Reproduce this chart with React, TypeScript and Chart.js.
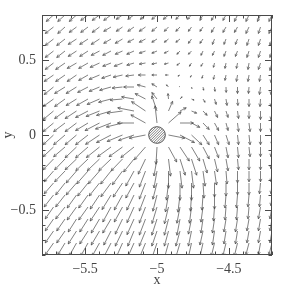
import { useEffect, useRef } from "react";
import { Chart, registerables } from "chart.js";
Chart.register(...registerables);

// grid columns (x) and rows (y, top to bottom) where arrow tails sit
const X_GRID = [-5.72, -5.64, -5.56, -5.48, -5.40, -5.32, -5.24, -5.16, -5.08, -5.00, -4.92, -4.84, -4.76, -4.68, -4.60, -4.52, -4.44, -4.36, -4.28, -4.20];
const Y_GRID = [0.80, 0.72, 0.64, 0.56, 0.48, 0.40, 0.32, 0.24, 0.16, 0.08, 0, -0.08, -0.16, -0.24, -0.32, -0.40, -0.48, -0.56, -0.64, -0.72];

// arrow components (tenths of a grid step), one row per Y_GRID entry
const U_ROWS = [
  [-7, -7, -7, -7, -7, -7, -6, -6, -5, -5, -5, -4, -4, -3, -3, -3, -3, -3, -3, -3],
  [-8, -7, -7, -7, -7, -7, -6, -6, -6, -5, -4, -4, -3, -3, -3, -3, -3, -3, -2, -3],
  [-8, -8, -8, -8, -8, -7, -7, -6, -6, -5, -4, -4, -3, -3, -2, -2, -2, -2, -2, -2],
  [-8, -8, -8, -8, -8, -8, -7, -7, -6, -5, -4, -3, -3, -2, -2, -2, -2, -2, -2, -2],
  [-8, -9, -9, -9, -9, -8, -8, -7, -6, -5, -4, -3, -2, -2, -1, -1, -1, -1, -2, -2],
  [-9, -9, -9, -9, -10, -9, -9, -8, -7, -5, -3, -2, -1, -1, -1, -1, -1, -1, -1, -1],
  [-9, -10, -10, -10, -10, -11, -10, -10, -8, -5, -2, -0.5, 0.4, 0.6, 0.5, 0.2, 0, -0.5, -1, -1],
  [-10, -10, -10, -11, -12, -12, -12, -12, -10, -5, -0.5, 2, 2.5, 2, 1.6, 1, 0.4, 0, -0.5, -1],
  [-10, -10, -11, -12, -13, -14, -15, -16, -14, -5, 4, 6, 5, 4, 3, 2, 1, 0, 0, -1],
  [-10, -11, -11, -12, -14, -16, -17, -17, -15, -2, 13, 13, 8, 6, 4, 2, 1, 1, 0, -1],
  [-10, -11, -11, -12, -14, -14, -15, -15, -16, null, 16, 14, 10, 6, 4, 3, 1, 1, 0, 0],
  [-10, -11, -11, -12, -13, -13, -13, -13, -11, -1, 8, 9, 8, 6, 4, 2, 1, 1, 0, -1],
  [-10, -10, -11, -12, -12, -12, -11, -10, -7, -3, 2, 5, 5, 4, 3, 2, 1, 0, 0, -1],
  [-9, -10, -10, -11, -11, -10, -10, -8, -6, -3, 0, 2, 2, 2, 2, 1, 0, 0, 0, -1],
  [-9, -9, -10, -10, -10, -10, -9, -8, -6, -4, -2, 0, 0, 1, 0, 0, 0, 0, -1, -1],
  [-9, -9, -9, -9, -9, -9, -8, -7, -6, -4, -3, -2, -1, -1, 0, -1, -1, -1, -1, -1],
  [-8, -9, -9, -9, -9, -8, -8, -7, -6, -5, -4, -3, -2, -2, -1, -1, -1, -1, -2, -2],
  [-8, -8, -8, -8, -8, -8, -7, -7, -6, -5, -4, -3, -3, -2, -2, -2, -2, -2, -2, -2],
  [-8, -8, -8, -8, -8, -7, -7, -6, -6, -5, -4, -4, -3, -3, -2, -2, -2, -2, -2, -2],
  [-8, -7, -7, -7, -7, -7, -6, -6, -6, -5, -4, -4, -3, -3, -3, -3, -3, -3, -2, -3],
];
const V_ROWS = [
  [-6, -6, -6, -5, -5, -5, -4, -4, -4, -4, -4, -4, -4, -5, -5, -5, -6, -6, -6, -6],
  [-6, -6, -5, -5, -5, -4, -4, -4, -4, -4, -4, -4, -4, -4, -5, -5, -5, -6, -6, -6],
  [-6, -6, -5, -5, -5, -4, -4, -3, -3, -3, -3, -3, -4, -4, -5, -5, -5, -6, -6, -6],
  [-6, -6, -5, -5, -4, -4, -3, -3, -2, -2, -2, -3, -3, -4, -4, -5, -5, -6, -6, -6],
  [-6, -6, -5, -5, -4, -3, -3, -2, -1, -1, -1, -2, -3, -3, -4, -5, -5, -6, -6, -7],
  [-6, -6, -6, -5, -4, -3, -2, -1, 0, 0, 0, -1, -2, -3, -4, -5, -6, -6, -6, -7],
  [-7, -6, -6, -5, -4, -3, -1, 0, 2, 3, 2, 0.4, -1.4, -3, -4, -5, -6, -6, -7, -7],
  [-7, -7, -6, -6, -5, -3, -1, 2, 5, 6, 5, 2, -1, -3, -5, -6, -6, -7, -7, -7],
  [-8, -7, -7, -6, -5, -4, -2, 3, 9, 14, 9, 3, -2, -4, -6, -6, -7, -7, -8, -8],
  [-8, -8, -8, -7, -7, -6, -4, 0, 8, 17, 11, 0, -4, -6, -7, -7, -8, -8, -8, -8],
  [-9, -9, -9, -9, -9, -7, -6, -5, -3, null, -3, -7, -9, -9, -9, -9, -9, -9, -9, -9],
  [-9, -9, -10, -10, -10, -9, -9, -10, -12, -16, -14, -13, -13, -11, -10, -10, -10, -9, -9, -9],
  [-10, -10, -10, -11, -11, -11, -11, -12, -14, -16, -16, -15, -15, -13, -12, -11, -10, -10, -10, -9],
  [-10, -10, -11, -12, -12, -12, -13, -14, -15, -16, -16, -16, -16, -14, -13, -12, -11, -10, -10, -10],
  [-10, -11, -11, -12, -12, -13, -13, -14, -15, -15, -16, -16, -16, -14, -13, -12, -11, -11, -10, -10],
  [-11, -11, -12, -12, -13, -14, -14, -14, -15, -15, -16, -16, -15, -14, -13, -12, -12, -11, -11, -10],
  [-11, -11, -12, -12, -13, -14, -14, -15, -15, -16, -16, -15, -15, -14, -13, -12, -12, -11, -11, -11],
  [-11, -11, -12, -12, -13, -13, -14, -15, -15, -15, -15, -15, -14, -13, -13, -12, -12, -11, -11, -11],
  [-11, -11, -12, -12, -13, -13, -14, -14, -14, -14, -14, -14, -14, -13, -13, -12, -12, -11, -11, -11],
  [-11, -11, -12, -12, -12, -13, -13, -13, -14, -14, -14, -13, -13, -13, -12, -12, -12, -11, -11, -11],
];

const X_TICKS = [-5.5, -5, -4.5];
const Y_TICKS = [-0.5, 0, 0.5];
const X_RANGE = [-5.8, -4.2];
const Y_RANGE = [-0.8, 0.8];
const SOURCE = { x: -5, y: 0, r: 0.058 };

const UNIT = 0.0072; // data units per arrow-component unit
const CAP = 16;
const INK = "#4a4a4a";
const TEXT = "#444";
const FONT = { family: "'Liberation Serif', 'DejaVu Serif', serif", size: 14 };

const fmt = (v: number) => {
  const s = String(Math.abs(v));
  return v < 0 ? "\u2212" + s : s;
};

const arrowPlugin = {
  id: "arrows",
  afterDatasetsDraw(chart: any) {
    const { ctx, chartArea: a } = chart;
    const xs = chart.scales.x;
    const ys = chart.scales.y;
    const pts = chart.data.datasets[0].data as any[];
    ctx.save();
    ctx.beginPath();
    ctx.rect(a.left, a.top, a.right - a.left, a.bottom - a.top);
    ctx.clip();
    ctx.strokeStyle = INK;
    ctx.lineWidth = 0.7;
    for (const p of pts) {
      if (p.u == null) continue;
      let u = p.u, v = p.v;
      const L = Math.hypot(u, v);
      if (L > CAP) { u *= CAP / L; v *= CAP / L; }
      const x0 = xs.getPixelForValue(p.x), y0 = ys.getPixelForValue(p.y);
      const x1 = xs.getPixelForValue(p.x + u * UNIT), y1 = ys.getPixelForValue(p.y + v * UNIT);
      const ang = Math.atan2(y1 - y0, x1 - x0);
      const h = Math.min(3.2, 0.45 * Math.hypot(x1 - x0, y1 - y0));
      ctx.beginPath();
      ctx.moveTo(x0, y0);
      ctx.lineTo(x1, y1);
      ctx.moveTo(x1 + h * Math.cos(ang + Math.PI - 0.45), y1 + h * Math.sin(ang + Math.PI - 0.45));
      ctx.lineTo(x1, y1);
      ctx.lineTo(x1 + h * Math.cos(ang + Math.PI + 0.45), y1 + h * Math.sin(ang + Math.PI + 0.45));
      ctx.stroke();
    }
    // source disc with hatching
    const cx = xs.getPixelForValue(SOURCE.x), cy = ys.getPixelForValue(SOURCE.y);
    const r = xs.getPixelForValue(SOURCE.x + SOURCE.r) - cx;
    ctx.beginPath();
    ctx.arc(cx, cy, r, 0, Math.PI * 2);
    ctx.fillStyle = "#fff";
    ctx.fill();
    ctx.save();
    ctx.clip();
    ctx.beginPath();
    for (let d = -2 * r; d <= 2 * r; d += 2.6) {
      ctx.moveTo(cx - r + d, cy + r);
      ctx.lineTo(cx + r + d, cy - r);
    }
    ctx.lineWidth = 0.7;
    ctx.stroke();
    ctx.restore();
    ctx.beginPath();
    ctx.arc(cx, cy, r, 0, Math.PI * 2);
    ctx.lineWidth = 0.9;
    ctx.stroke();
    ctx.restore();
  },
  afterDraw(chart: any) {
    const { ctx, chartArea: a } = chart;
    const xs = chart.scales.x;
    const ys = chart.scales.y;
    ctx.save();
    ctx.strokeStyle = INK;
    ctx.lineWidth = 1;
    ctx.strokeRect(a.left + 0.5, a.top + 0.5, a.right - a.left - 1, a.bottom - a.top - 1);
    ctx.beginPath();
    for (let k = Math.round(X_RANGE[0] * 10); k <= Math.round(X_RANGE[1] * 10); k++) {
      const px = Math.round(xs.getPixelForValue(k / 10)) + 0.5;
      const len = k % 5 === 0 ? 7 : 3.5;
      ctx.moveTo(px, a.bottom); ctx.lineTo(px, a.bottom - len);
      ctx.moveTo(px, a.top); ctx.lineTo(px, a.top + len);
    }
    for (let k = Math.round(Y_RANGE[0] * 10); k <= Math.round(Y_RANGE[1] * 10); k++) {
      const py = Math.round(ys.getPixelForValue(k / 10)) + 0.5;
      const len = k % 5 === 0 ? 7 : 3.5;
      ctx.moveTo(a.left, py); ctx.lineTo(a.left + len, py);
      ctx.moveTo(a.right, py); ctx.lineTo(a.right - len, py);
    }
    ctx.stroke();
    ctx.restore();
  },
};

export default function App() {
  const ref = useRef<HTMLCanvasElement | null>(null);
  useEffect(() => {
    if (!ref.current) return;
    const pts: any[] = [];
    Y_GRID.forEach((y, j) => {
      X_GRID.forEach((x, i) => {
        pts.push({ x, y, u: U_ROWS[j][i], v: V_ROWS[j][i] });
      });
    });
    const chart = new Chart(ref.current, {
      type: "scatter",
      data: { datasets: [{ data: pts, pointRadius: 0, showLine: false }] },
      options: {
        animation: false,
        responsive: false,
        devicePixelRatio: 1,
        layout: { padding: { top: 15, right: 15, left: 0, bottom: 0 } },
        plugins: { legend: { display: false }, tooltip: { enabled: false } },
        scales: {
          x: {
            type: "linear",
            min: X_RANGE[0],
            max: X_RANGE[1],
            grid: { display: false, drawTicks: false },
            border: { display: false },
            afterBuildTicks: (s: any) => { s.ticks = X_TICKS.map((value) => ({ value })); },
            afterFit: (s: any) => { s.height = 32; },
            ticks: { color: TEXT, font: FONT, padding: 6, autoSkip: false, maxRotation: 0, callback: (v: any) => fmt(Number(v)) },
            title: { display: true, text: "x", color: TEXT, font: FONT, padding: { top: 0, bottom: -2 } },
          },
          y: {
            type: "linear",
            min: Y_RANGE[0],
            max: Y_RANGE[1],
            grid: { display: false, drawTicks: false },
            border: { display: false },
            afterBuildTicks: (s: any) => { s.ticks = Y_TICKS.map((value) => ({ value })); },
            afterFit: (s: any) => { s.width = 42; },
            ticks: { color: TEXT, font: FONT, padding: 6, autoSkip: false, callback: (v: any) => fmt(Number(v)) },
            title: { display: true, text: "y", color: TEXT, font: FONT, padding: { top: 0, bottom: 0 } },
          },
        },
      },
      plugins: [arrowPlugin],
    });
    return () => chart.destroy();
  }, []);
  return (
    <div style={{ position: "fixed", left: 0, top: 0, width: 287, height: 287, background: "#fff" }}>
      <canvas ref={ref} width={287} height={287} />
    </div>
  );
}
